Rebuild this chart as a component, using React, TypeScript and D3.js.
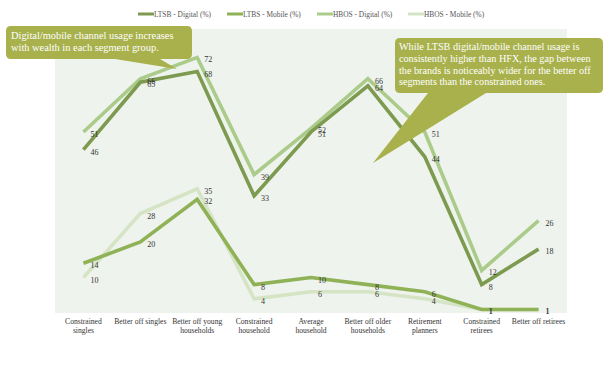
import React from "react";
import * as d3 from "d3";

const categories = [
  ["Constrained", "singles"],
  ["Better off singles"],
  ["Better off young", "households"],
  ["Constrained", "household"],
  ["Average", "household"],
  ["Better off older", "households"],
  ["Retirement", "planners"],
  ["Constrained", "retirees"],
  ["Better off retirees"],
];
const ltsbDigital = [46, 65, 68, 33, 51, 64, 44, 8, 18];
const ltsbMobile = [14, 20, 32, 8, 10, 8, 6, 1, 1];
const hbosDigital = [51, 66, 72, 39, 52, 66, 51, 12, 26];
const hbosMobile = [10, 28, 35, 4, 6, 6, 4, 1, 1];
const seriesNames = ["LTSB - Digital (%)", "LTBS - Mobile (%)", "HBOS - Digital (%)", "HBOS - Mobile (%)"];
const seriesColors = ["#7d9b50", "#8fb257", "#aacb8a", "#d5e4c5"];
const leftNote = ["Digital/mobile channel usage increases", "with wealth in each segment group."];
const rightNote = [
  "While LTSB digital/mobile channel usage is",
  "consistently higher than HFX, the gap between",
  "the brands is noticeably wider for the better off",
  "segments than the constrained ones.",
];

const W = 607, H = 372;
const plot = { left: 55, right: 567, top: 29, bottom: 313 };
const serif = "'Liberation Serif', 'DejaVu Serif', serif";
const bubble = "#a8b14b";

export default function App() {
  const x = d3.scaleBand<number>().domain(d3.range(categories.length)).range([plot.left, plot.right]);
  const cx = (i: number) => (x(i) as number) + x.bandwidth() / 2;
  const y = d3.scaleLinear().domain([0, 80]).range([plot.bottom, plot.top]);
  const line = d3.line<number>().x((_, i) => cx(i)).y((v) => y(v));
  const all = [ltsbDigital, ltsbMobile, hbosDigital, hbosMobile];
  const drawOrder = [3, 2, 1, 0];
  const legendX = [138, 227, 317, 408];

  const leftBubble = `M11,26 H187 Q192,26 192,31 V54 Q192,59 187,59 H160 L177,69 L115,59 H11 Q6,59 6,54 V31 Q6,26 11,26 Z`;
  const rightBubble = `M400,38 H598 Q603,38 603,43 V88 Q603,93 598,93 H486 L373,163 L428,93 H400 Q395,93 395,88 V43 Q395,38 400,38 Z`;

  return (
    <svg width={W} height={H} style={{ position: "absolute", left: 0, top: 0, background: "#fff" }} fontFamily={serif}>
      <rect x={plot.left} y={plot.top} width={plot.right - plot.left} height={plot.bottom - plot.top} fill="#eff3ed" />
      {seriesNames.map((n, i) => (
        <g key={n}>
          <line x1={legendX[i]} x2={legendX[i] + 16} y1={14} y2={14} stroke={seriesColors[i]} strokeWidth={3} />
          <text x={legendX[i] + 16} y={16.5} fontSize={7.4} fill="#555">{n}</text>
        </g>
      ))}
      {drawOrder.map((s) => (
        <path key={s} d={line(all[s]) as string} fill="none" stroke={seriesColors[s]} strokeWidth={3.6} strokeLinejoin="miter" />
      ))}
      {drawOrder.map((s) =>
        all[s].map((v, i) => (
          <text key={`${s}-${i}`} x={cx(i) + 7} y={y(v) + 5} fontSize={8} fill="#333">{v}</text>
        ))
      )}
      {categories.map((c, i) => (
        <text key={i} x={cx(i)} y={324} fontSize={7.6} fill="#333" textAnchor="middle">
          {c.map((t, j) => (
            <tspan key={j} x={cx(i)} dy={j === 0 ? 0 : 8.5}>{t}</tspan>
          ))}
        </text>
      ))}
      <path d={leftBubble} fill={bubble} />
      {leftNote.map((t, j) => (
        <text key={j} x={11} y={39 + j * 12} fontSize={10.4} fill="#fff">{t}</text>
      ))}
      <path d={rightBubble} fill={bubble} />
      {rightNote.map((t, j) => (
        <text key={j} x={399} y={50 + j * 11.8} fontSize={10.2} fill="#fff">{t}</text>
      ))}
    </svg>
  );
}
